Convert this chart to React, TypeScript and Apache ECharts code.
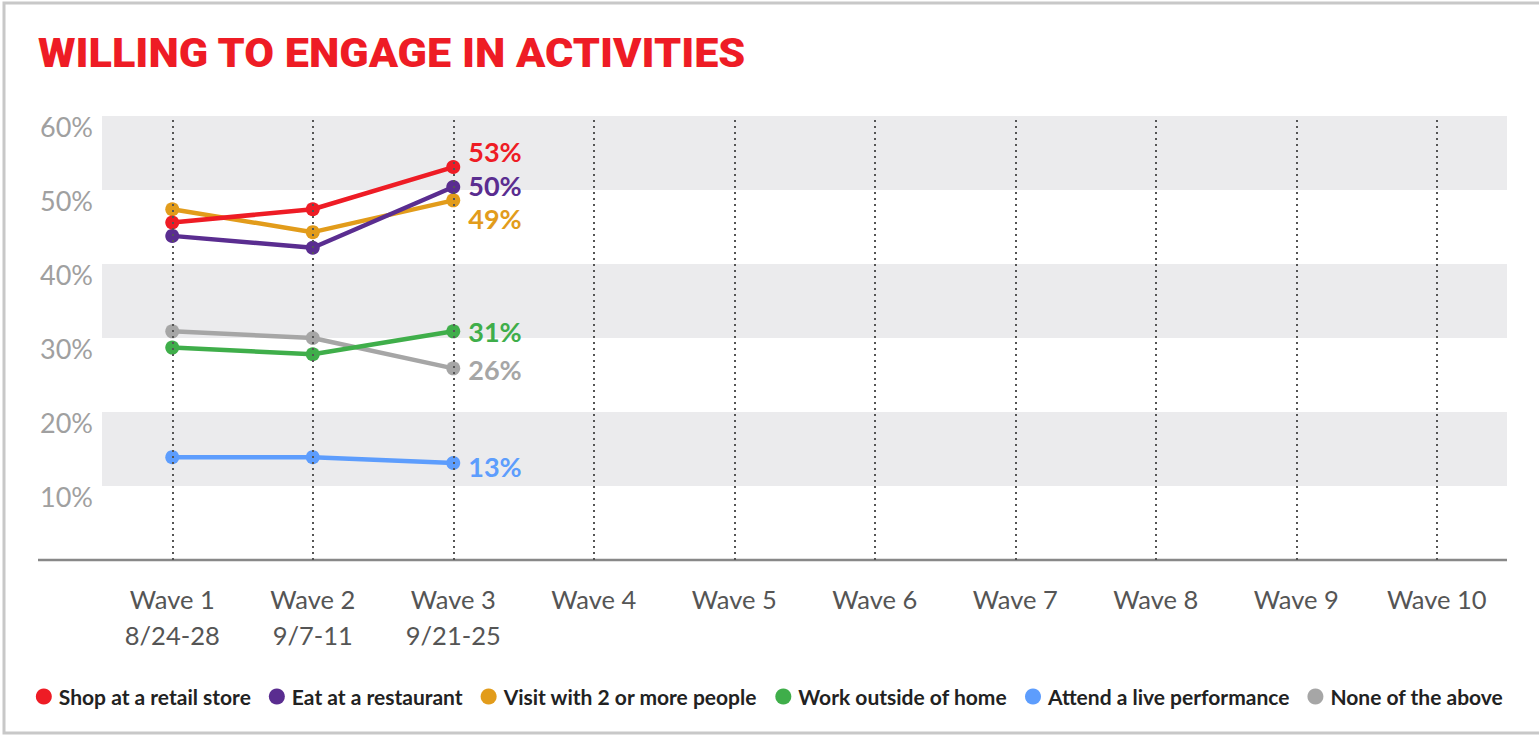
import { useEffect, useRef } from "react";
import * as echarts from "echarts";

const categories = ["Wave 1", "Wave 2", "Wave 3", "Wave 4", "Wave 5", "Wave 6", "Wave 7", "Wave 8", "Wave 9", "Wave 10"];
const dates = ["8/24-28", "9/7-11", "9/21-25", "", "", "", "", "", "", ""];

const seriesNames = [
  "Shop at a retail store",
  "Eat at a restaurant",
  "Visit with 2 or more people",
  "Work outside of home",
  "Attend a live performance",
  "None of the above",
];
const shopRetail = [45.6, 47.4, 53.1];
const eatRestaurant = [43.8, 42.2, 50.4];
const visitPeople = [47.4, 44.3, 48.6];
const workOutside = [28.7, 27.8, 30.9];
const attendLive = [13.9, 13.9, 13.1];
const noneAbove = [30.9, 30.0, 25.9];
const endLabels = ["53%", "50%", "49%", "31%", "13%", "26%"];
const colors = ["#ee1c25", "#5a2d90", "#e29c1b", "#3fae4a", "#5d9dfd", "#a6a6a6"];
const labelOffsets = [[0, -16], [0, -2], [0, 18], [0, 0], [0, 3], [0, 1]];
const yMin = 0;
const yMax = 60;
const yStep = 10;

export default function App() {
  const ref = useRef<HTMLDivElement>(null);
  useEffect(() => {
    if (!ref.current) return;
    const chart = echarts.init(ref.current, null, { renderer: "svg" });
    const allValues = [shopRetail, eatRestaurant, visitPeople, workOutside, attendLive, noneAbove];
    const drawOrder = [5, 3, 4, 2, 1, 0];
    const lineSeries = drawOrder.map((k) => {
      const vals = allValues[k];
      return {
        name: seriesNames[k],
        type: "line",
        z: 3,
        data: vals.map((v, i) =>
          i === vals.length - 1
            ? {
                value: v,
                label: {
                  show: true,
                  position: "right",
                  distance: 8,
                  offset: labelOffsets[k],
                  formatter: endLabels[k],
                  color: colors[k],
                  fontSize: 27,
                  lineHeight: 25,
                  fontWeight: "bold",
                  fontFamily: "Lato",
                },
              }
            : v
        ),
        color: colors[k],
        symbol: "circle",
        symbolSize: 14,
        lineStyle: { width: 4.5, color: colors[k] },
        itemStyle: { color: colors[k] },
      };
    });
    chart.setOption({
      animation: false,
      backgroundColor: "#ffffff",
      grid: { left: 102, right: 32, top: 116, bottom: 176, containLabel: false },
      legend: {
        data: seriesNames,
        top: 681,
        left: "center",
        icon: "circle",
        itemWidth: 16,
        itemHeight: 16,
        itemGap: 18,
        textStyle: {
          fontSize: 21,
          fontWeight: "bold",
          color: "#222",
          fontFamily: "Lato",
          padding: [0, 0, 0, 2],
        },
      },
      xAxis: {
        type: "category",
        data: categories,
        boundaryGap: true,
        axisLine: { show: false },
        axisTick: { show: false },
        splitLine: { show: false },
        axisLabel: {
          formatter: (v: string, i: number) => (dates[i] ? `${v}\n${dates[i]}` : v),
          fontSize: 25.5,
          lineHeight: 36,
          color: "#555",
          fontFamily: "Lato",
          margin: 21,
          interval: 0,
        },
      },
      yAxis: {
        type: "value",
        min: yMin,
        max: yMax,
        interval: yStep,
        axisLine: { show: false },
        axisTick: { show: false },
        splitLine: { show: false },
        splitArea: { show: true, areaStyle: { color: ["rgba(255,255,255,0)", "#ebebed"] } },
        axisLabel: {
          formatter: (v: number) => (v === 0 ? "" : `${v}%`),
          fontSize: 27,
          color: "#a0a0a0",
          fontFamily: "Lato",
          margin: 9,
          verticalAlign: "top",
          lineHeight: 21,
        },
      },
      graphic: [
        {
          type: "rect",
          silent: true,
          z: -10,
          shape: { x: 4, y: 3, width: 1560, height: 730 },
          style: { fill: "none", stroke: "#c8c8c8", lineWidth: 3 },
        },
        {
          type: "text",
          x: 38,
          y: 33,
          scaleX: 1.079,
          style: {
            text: "WILLING TO ENGAGE IN ACTIVITIES",
            fill: "#ee1c25",
            fontSize: 40,
            fontWeight: 900,
            fontFamily: "Roboto",
          },
        },
        {
          type: "line",
          silent: true,
          z: 5,
          shape: { x1: 38, y1: 560, x2: 1507, y2: 560 },
          style: { stroke: "#888", lineWidth: 2.5 },
        },
      ],
      series: [
        {
          name: "gridlines",
          type: "line",
          z: 1,
          data: categories.map(() => null),
          silent: true,
          markLine: {
            silent: true,
            symbol: ["none", "none"],
            label: { show: false },
            lineStyle: { type: [2, 4], color: "#555", width: 2 },
            data: categories.map((c) => ({ xAxis: c })),
          },
        },
        ...lineSeries,
      ],
    });
    return () => chart.dispose();
  }, []);
  return (
    <div
      ref={ref}
      style={{ position: "absolute", left: 0, top: 0, width: 1539, height: 736, background: "#fff" }}
    />
  );
}
